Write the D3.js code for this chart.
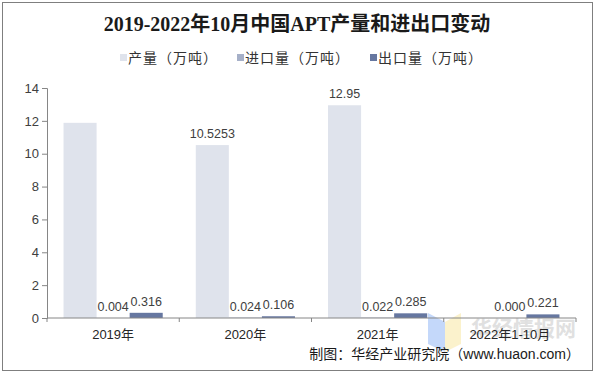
<!DOCTYPE html>
<html>
<head>
<meta charset="utf-8">
<script src="https://cdn.jsdelivr.net/npm/d3@7"></script>
<style>
body { margin: 0; background: #fff; }
svg { display: block; }
</style>
</head>
<body>
<div id="chart"></div>
<script>
(function(){

//chart data
var categories = ["2019年", "2020年", "2021年", "2022年1-10月"];
var seriesNames = ["产量（万吨）", "进口量（万吨）", "出口量（万吨）"];
var production = [11.88, 10.5253, 12.95, null];
var imports = [0.004, 0.024, 0.022, 0.000];
var exports = [0.316, 0.106, 0.285, 0.221];
var labels = [
    [null, "10.5253", "12.95", null],
    ["0.004", "0.024", "0.022", "0.000"],
    ["0.316", "0.106", "0.285", "0.221"]
];
var yTicks = [0, 2, 4, 6, 8, 10, 12, 14];
var colors = ["#dfe3ec", "#a6b0c8", "#6677a0"];

window.onload = setChart;

function setChart(){

    var width = 595, height = 374;
    var margin = {top: 88, left: 47, right: 19, bottom: 56};

    var svg = d3.select("#chart")
        .append("svg")
        .attr("width", width)
        .attr("height", height);

    //outer frame
    svg.append("rect")
        .attr("x", 2.5).attr("y", 2.5)
        .attr("width", 590).attr("height", 368)
        .attr("fill", "#fff")
        .attr("stroke", "#7f7f7f");

    var x0 = d3.scaleBand()
        .domain(categories)
        .range([margin.left, width - margin.right])
        .paddingInner(0)
        .paddingOuter(0);

    var x1 = d3.scaleBand()
        .domain([0, 1, 2])
        .range([0, x0.bandwidth()])
        .paddingOuter(0.5)
        .paddingInner(0);

    var y = d3.scaleLinear()
        .domain([0, 14])
        .range([height - margin.bottom, margin.top]);

    var series = [production, imports, exports];

    //watermark
    var wm = svg.append("g").attr("opacity", 0.3);
    wm.append("path")
        .attr("d", "M428,313 L445,322 L445,352 L428,344 Z")
        .attr("fill", "#3f7ff0");
    wm.append("path")
        .attr("d", "M445,322 L461,313 L461,344 L445,352 Z")
        .attr("fill", "#f5d55a");
    wm.append("text")
        .attr("x", 471).attr("y", 336)
        .attr("font-family", "Noto Sans CJK SC")
        .attr("font-weight", "bold")
        .attr("font-size", 21)
        .attr("fill", "#9a9a9a")
        .text("华经情报网");

    //bars
    series.forEach(function(vals, s){
        svg.append("g")
            .selectAll("rect")
            .data(vals.map(function(v, i){ return {c: categories[i], v: v}; })
                .filter(function(d){ return d.v !== null; }))
            .enter()
            .append("rect")
            .attr("x", function(d){ return x0(d.c) + x1(s); })
            .attr("y", function(d){ return y(d.v); })
            .attr("width", x1.bandwidth())
            .attr("height", function(d){ return y(0) - y(d.v); })
            .attr("fill", colors[s]);
    });

    //data labels
    series.forEach(function(vals, s){
        svg.append("g")
            .selectAll("text")
            .data(vals.map(function(v, i){ return {c: categories[i], v: v, t: labels[s][i]}; })
                .filter(function(d){ return d.t !== null; }))
            .enter()
            .append("text")
            .attr("x", function(d){ return x0(d.c) + x1(s) + x1.bandwidth() / 2; })
            .attr("y", function(d){ return y(d.v) - 7; })
            .attr("text-anchor", "middle")
            .attr("font-family", "Liberation Sans")
            .attr("font-size", 12.5)
            .attr("fill", "#404040")
            .text(function(d){ return d.t; });
    });

    //y axis
    var yAxis = svg.append("g")
        .attr("transform", "translate(" + margin.left + ",0)")
        .call(d3.axisLeft(y).tickValues(yTicks).tickSize(5).tickPadding(3));
    yAxis.select(".domain").attr("stroke", "#868686");
    yAxis.selectAll(".tick line").attr("stroke", "#868686");
    yAxis.selectAll("text")
        .attr("font-family", "Liberation Sans")
        .attr("font-size", 13)
        .attr("fill", "#404040");

    //x axis
    var xAxis = svg.append("g")
        .attr("transform", "translate(0," + y(0) + ")");
    xAxis.append("line")
        .attr("x1", margin.left).attr("x2", width - margin.right)
        .attr("y1", 0).attr("y2", 0)
        .attr("stroke", "#868686");
    xAxis.selectAll(".xtick")
        .data(categories.concat(["end"]))
        .enter()
        .append("line")
        .attr("x1", function(d, i){ return i < categories.length ? x0(d) : x0.range()[1]; })
        .attr("x2", function(d, i){ return i < categories.length ? x0(d) : x0.range()[1]; })
        .attr("y1", 0).attr("y2", 4)
        .attr("stroke", "#868686");
    xAxis.selectAll(".xlabel")
        .data(categories)
        .enter()
        .append("text")
        .attr("x", function(d){ return x0(d) + x0.bandwidth() / 2; })
        .attr("y", 21)
        .attr("text-anchor", "middle")
        .attr("font-family", "Liberation Sans, Noto Sans CJK SC")
        .attr("font-size", 13)
        .attr("fill", "#262626")
        .text(function(d){ return d; });

    //title
    svg.append("text")
        .attr("x", 297).attr("y", 31)
        .attr("text-anchor", "middle")
        .attr("font-family", "Liberation Serif, Noto Sans CJK SC")
        .attr("font-weight", "bold")
        .attr("font-size", 20)
        .attr("fill", "#1a1a1a")
        .text("2019-2022年10月中国APT产量和进出口变动");

    //legend
    var legendX = [120, 237, 370];
    var legend = svg.append("g")
        .selectAll("g")
        .data(seriesNames)
        .enter()
        .append("g")
        .attr("transform", function(d, i){ return "translate(" + legendX[i] + ",58)"; });
    legend.append("rect")
        .attr("x", 0).attr("y", -4)
        .attr("width", 7).attr("height", 7)
        .attr("fill", function(d, i){ return colors[i]; });
    legend.append("text")
        .attr("x", 8).attr("y", 5)
        .attr("font-family", "Noto Sans CJK SC")
        .attr("font-size", 14)
        .attr("letter-spacing", 1)
        .attr("fill", "#333")
        .text(function(d){ return d; });

    //source note
    svg.append("text")
        .attr("x", 580).attr("y", 359)
        .attr("text-anchor", "end")
        .attr("font-family", "Liberation Sans, Noto Sans CJK SC")
        .attr("font-size", 14)
        .attr("fill", "#1a1a1a")
        .text("制图：华经产业研究院（www.huaon.com）");
};

})();
</script>
</body>
</html>
